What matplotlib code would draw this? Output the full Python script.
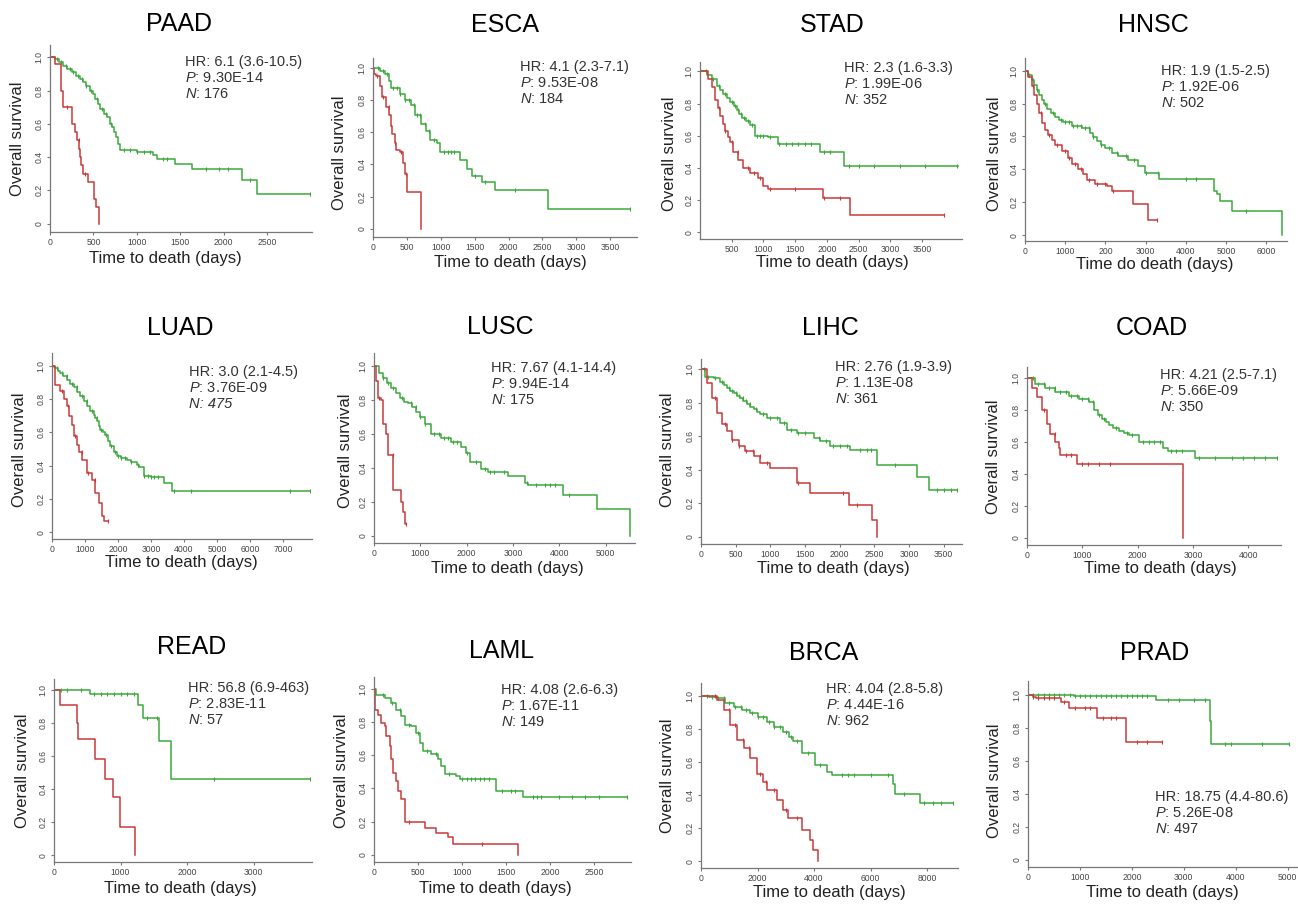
import matplotlib
matplotlib.use("Agg")
import matplotlib.pyplot as plt
import numpy as np

plt.rcParams['font.family'] = ['Liberation Sans', 'DejaVu Sans']
plt.rcParams['mathtext.fontset'] = 'custom'
plt.rcParams['mathtext.rm'] = 'Liberation Sans'
plt.rcParams['mathtext.it'] = 'Liberation Sans:italic'

# ---- survival data (days, survival) ----
paad_g_t = [0, 60, 100, 150, 200, 250, 300, 350, 385, 420, 460, 500, 519, 550, 577, 620, 654, 690, 712, 735, 760, 788, 808, 1000, 1192, 1231, 1442, 1635, 2212, 2385, 2995]
paad_g_s = [1.0, 0.99, 0.97, 0.95, 0.93, 0.91, 0.89, 0.87, 0.85, 0.83, 0.80, 0.78, 0.75, 0.72, 0.69, 0.66, 0.64, 0.60, 0.58, 0.55, 0.52, 0.48, 0.445, 0.43, 0.41, 0.39, 0.36, 0.33, 0.26, 0.18, 0.18]
paad_g_c = [80, 130, 180, 230, 270, 320, 370, 420, 470, 540, 600, 640, 700, 850, 920, 1000, 1080, 1150, 1300, 1350, 1800, 1950, 2050, 2300, 2995]
paad_r_t = [0, 60, 127, 154, 250, 288, 308, 335, 346, 358, 377, 442, 508, 527, 569]
paad_r_s = [1.0, 0.96, 0.80, 0.70, 0.60, 0.55, 0.50, 0.45, 0.40, 0.35, 0.30, 0.25, 0.15, 0.10, 0.0]
paad_r_c = [200, 330, 400]

esca_g_t = [0, 99, 172, 230, 271, 394, 468, 567, 616, 715, 789, 838, 937, 986, 1282, 1380, 1454, 1602, 1800, 2588, 3796]
esca_g_s = [1.0, 0.98, 0.96, 0.92, 0.875, 0.84, 0.80, 0.77, 0.71, 0.65, 0.61, 0.55, 0.53, 0.48, 0.43, 0.37, 0.33, 0.29, 0.24, 0.12, 0.12]
esca_g_c = [80, 150, 200, 300, 350, 400, 470, 530, 600, 650, 700, 760, 820, 900, 1050, 1100, 1150, 1200, 1500, 1650, 2100, 3790]
esca_r_t = [0, 20, 49, 99, 133, 197, 237, 261, 286, 320, 345, 394, 444, 468, 508, 715]
esca_r_s = [1.0, 0.96, 0.95, 0.89, 0.82, 0.76, 0.71, 0.64, 0.59, 0.53, 0.49, 0.475, 0.41, 0.34, 0.23, 0.0]
esca_r_c = [60, 150, 230, 330, 420, 480]

stad_g_t = [0, 105, 184, 263, 320, 368, 420, 474, 530, 579, 620, 658, 720, 789, 868, 1079, 1237, 1895, 2263, 4063]
stad_g_s = [1.0, 0.975, 0.955, 0.91, 0.885, 0.86, 0.835, 0.81, 0.785, 0.76, 0.735, 0.71, 0.69, 0.665, 0.60, 0.59, 0.55, 0.50, 0.41, 0.41]
stad_g_c = [100, 200, 300, 400, 500, 550, 600, 650, 700, 760, 820, 900, 950, 1000, 1100, 1250, 1350, 1450, 1550, 1650, 1750, 1950, 2050, 2350, 2500, 2750, 3150, 3550, 4060]
stad_r_t = [0, 132, 184, 237, 280, 316, 360, 395, 440, 474, 526, 605, 684, 789, 921, 1000, 1079, 1947, 2368, 3842]
stad_r_s = [1.0, 0.955, 0.90, 0.82, 0.77, 0.72, 0.67, 0.63, 0.59, 0.56, 0.50, 0.45, 0.40, 0.37, 0.335, 0.29, 0.27, 0.215, 0.11, 0.11]
stad_r_c = [300, 400, 500, 600, 750, 850, 950, 1100, 1500, 1950, 2200, 3840]

hnsc_g_t = [0, 80, 166, 230, 290, 350, 415, 480, 540, 640, 747, 850, 955, 1162, 1411, 1619, 1700, 1785, 1900, 1992, 2158, 2324, 2573, 2822, 2988, 3320, 4690, 4773, 4856, 5146, 6391]
hnsc_g_s = [1.0, 0.975, 0.945, 0.91, 0.88, 0.85, 0.82, 0.795, 0.77, 0.745, 0.72, 0.70, 0.69, 0.665, 0.65, 0.62, 0.595, 0.57, 0.55, 0.53, 0.50, 0.48, 0.46, 0.42, 0.38, 0.34, 0.27, 0.25, 0.21, 0.15, 0.0]
hnsc_g_c = [100, 200, 300, 500, 700, 900, 1000, 1100, 1200, 1300, 1400, 1500, 1600, 1700, 1900, 2100, 2300, 2500, 2700, 3000, 3300, 4000, 4250, 5500]
hnsc_r_t = [0, 80, 166, 230, 290, 350, 415, 500, 581, 660, 747, 913, 1079, 1162, 1328, 1453, 1536, 1743, 2034, 2158, 2698, 3071, 3279]
hnsc_r_s = [1.0, 0.96, 0.905, 0.85, 0.80, 0.74, 0.68, 0.64, 0.61, 0.58, 0.55, 0.51, 0.47, 0.43, 0.40, 0.37, 0.335, 0.31, 0.30, 0.27, 0.19, 0.095, 0.095]
hnsc_r_c = [200, 400, 600, 800, 1000, 1100, 1250, 1400, 1600, 1800, 2000, 2200, 3279]

luad_g_t = [0, 50, 101, 180, 253, 330, 455, 540, 657, 760, 859, 960, 1061, 1160, 1263, 1310, 1364, 1420, 1465, 1540, 1616, 1687, 1768, 1869, 1970, 2100, 2273, 2400, 2576, 2650, 2778, 3000, 3384, 3636, 7828]
luad_g_s = [1.0, 0.99, 0.985, 0.97, 0.955, 0.935, 0.915, 0.89, 0.87, 0.84, 0.815, 0.79, 0.76, 0.73, 0.705, 0.685, 0.665, 0.64, 0.615, 0.60, 0.585, 0.55, 0.515, 0.48, 0.455, 0.445, 0.435, 0.42, 0.405, 0.39, 0.335, 0.33, 0.295, 0.245, 0.245]
luad_g_c = [150, 300, 450, 600, 750, 900, 1050, 1200, 1350, 1500, 1650, 1800, 1900, 2000, 2100, 2200, 2400, 2600, 2800, 2900, 3000, 3100, 3200, 3700, 4200, 7200, 7828]
luad_r_t = [0, 101, 253, 350, 455, 530, 606, 680, 758, 830, 909, 1061, 1212, 1313, 1414, 1515, 1566, 1687]
luad_r_s = [1.0, 0.885, 0.845, 0.80, 0.755, 0.70, 0.645, 0.58, 0.525, 0.48, 0.435, 0.355, 0.315, 0.235, 0.175, 0.095, 0.07, 0.07]
luad_r_c = [300, 500, 700, 900, 1100, 1300, 1687]

lusc_g_t = [0, 100, 195, 290, 375, 470, 555, 640, 735, 820, 915, 1000, 1095, 1239, 1455, 1672, 1888, 1996, 2068, 2320, 2464, 2896, 3257, 3329, 4085, 4806, 5526]
lusc_g_s = [1.0, 0.96, 0.93, 0.90, 0.87, 0.84, 0.81, 0.79, 0.78, 0.755, 0.73, 0.70, 0.66, 0.60, 0.575, 0.555, 0.525, 0.485, 0.435, 0.395, 0.375, 0.355, 0.31, 0.30, 0.24, 0.16, 0.0]
lusc_g_c = [200, 300, 400, 600, 800, 900, 1000, 1100, 1300, 1400, 1500, 1600, 1700, 1800, 2000, 2200, 2400, 2500, 2600, 2800, 3300, 3500, 3700, 3800, 3900, 4200]
lusc_r_t = [0, 50, 86, 159, 195, 267, 303, 411, 591, 627, 663, 699]
lusc_r_s = [1.0, 0.91, 0.81, 0.80, 0.66, 0.60, 0.475, 0.27, 0.20, 0.14, 0.07, 0.07]
lusc_r_c = [100, 400, 699]

lihc_g_t = [0, 63, 183, 279, 330, 375, 420, 471, 520, 567, 610, 663, 710, 760, 810, 856, 952, 1144, 1240, 1385, 1625, 1721, 1865, 2154, 2538, 3116, 3284, 3693]
lihc_g_s = [1.0, 0.955, 0.945, 0.925, 0.905, 0.885, 0.87, 0.855, 0.84, 0.825, 0.81, 0.79, 0.775, 0.76, 0.745, 0.73, 0.71, 0.68, 0.64, 0.62, 0.59, 0.57, 0.54, 0.52, 0.43, 0.36, 0.28, 0.28]
lihc_g_c = [50, 100, 200, 300, 400, 450, 500, 550, 600, 650, 700, 800, 900, 1000, 1100, 1200, 1300, 1400, 1500, 1700, 1800, 1900, 2000, 2100, 2300, 2400, 2450, 2800, 3400, 3500, 3600, 3693]
lihc_r_t = [0, 87, 159, 231, 303, 375, 447, 543, 639, 760, 856, 1000, 1385, 1577, 2130, 2466, 2539]
lihc_r_s = [1.0, 0.917, 0.83, 0.74, 0.67, 0.63, 0.58, 0.54, 0.51, 0.48, 0.44, 0.41, 0.32, 0.26, 0.19, 0.10, 0.0]
lihc_r_c = [200, 350, 450, 550, 650, 750, 850, 950, 1400, 2050, 2250]

coad_g_t = [0, 150, 331, 511, 752, 932, 1113, 1203, 1280, 1353, 1420, 1474, 1560, 1654, 1750, 1835, 2015, 2466, 2556, 3038, 4511]
coad_g_s = [1.0, 0.965, 0.935, 0.91, 0.89, 0.87, 0.85, 0.80, 0.77, 0.745, 0.725, 0.705, 0.69, 0.67, 0.655, 0.64, 0.60, 0.56, 0.54, 0.50, 0.50]
coad_g_c = [100, 200, 300, 400, 500, 600, 700, 800, 900, 1000, 1100, 1200, 1300, 1400, 1600, 1800, 1900, 2100, 2200, 2300, 2400, 2600, 2700, 2800, 3100, 3400, 3700, 3900, 4100, 4300, 4511]
coad_r_t = [0, 90, 180, 271, 361, 421, 511, 571, 601, 902, 2827]
coad_r_s = [1.0, 0.94, 0.88, 0.80, 0.715, 0.65, 0.60, 0.56, 0.52, 0.46, 0.0]
coad_r_c = [300, 500, 700, 800, 1000, 1100, 1300, 1500]

read_g_t = [0, 542, 1269, 1345, 1580, 1756, 3853]
read_g_s = [1.0, 0.975, 0.91, 0.83, 0.69, 0.46, 0.46]
read_g_c = [100, 200, 400, 600, 700, 800, 900, 1000, 1100, 1200, 1400, 1550, 2400, 3853]
read_r_t = [0, 90, 341, 366, 617, 768, 893, 993, 1219]
read_r_s = [1.0, 0.91, 0.80, 0.70, 0.58, 0.46, 0.35, 0.17, 0.0]
read_r_c = []

laml_g_t = [0, 27, 121, 197, 254, 311, 348, 424, 481, 519, 557, 652, 727, 765, 803, 936, 974, 1390, 1693, 2868]
laml_g_s = [1.0, 0.965, 0.945, 0.915, 0.875, 0.835, 0.785, 0.775, 0.735, 0.675, 0.625, 0.605, 0.575, 0.535, 0.485, 0.475, 0.455, 0.385, 0.35, 0.35]
laml_g_c = [100, 200, 300, 400, 500, 600, 700, 850, 1000, 1050, 1100, 1150, 1200, 1250, 1300, 1450, 1550, 1600, 1800, 1850, 1900, 2100, 2250, 2400, 2550, 2868]
laml_r_t = [0, 8, 45, 83, 121, 140, 178, 197, 216, 254, 273, 311, 348, 576, 708, 841, 898, 1636]
laml_r_s = [1.0, 0.87, 0.845, 0.795, 0.775, 0.715, 0.655, 0.575, 0.495, 0.445, 0.385, 0.335, 0.20, 0.16, 0.13, 0.105, 0.065, 0.0]
laml_r_c = [400, 1230]

brca_g_t = [0, 300, 565, 850, 1153, 1450, 1741, 2000, 2329, 2600, 2917, 3100, 3270, 3564, 4034, 4446, 4622, 6797, 6880, 7738, 8914]
brca_g_s = [1.0, 0.995, 0.985, 0.96, 0.935, 0.915, 0.895, 0.875, 0.845, 0.815, 0.78, 0.75, 0.725, 0.655, 0.58, 0.54, 0.52, 0.47, 0.41, 0.35, 0.35]
brca_g_c = [200, 400, 600, 800, 1000, 1200, 1400, 1600, 1800, 2000, 2200, 2400, 2600, 2800, 3000, 3200, 3400, 3800, 4200, 5000, 5200, 5400, 6000, 6600, 7200, 7900, 8200, 8500, 8914]
brca_r_t = [0, 565, 800, 1035, 1270, 1506, 1741, 1976, 2211, 2329, 2682, 2917, 3093, 3564, 3858, 3976, 4152]
brca_r_s = [1.0, 0.975, 0.915, 0.825, 0.735, 0.685, 0.625, 0.53, 0.48, 0.43, 0.37, 0.31, 0.26, 0.19, 0.13, 0.07, 0.0]
brca_r_c = [500, 1000, 1200, 1500, 1700, 2100, 2300, 2600, 3000, 3400]

prad_g_t = [0, 892, 2471, 3503, 3530, 5032]
prad_g_s = [1.0, 0.995, 0.97, 0.845, 0.705, 0.705]
prad_g_c = [100, 200, 300, 400, 500, 600, 700, 800, 900, 1000, 1100, 1200, 1300, 1400, 1500, 1600, 1700, 1800, 1900, 2000, 2100, 2200, 2300, 2700, 2900, 3200, 3400, 3800, 3900, 4500, 5032]
prad_r_t = [0, 96, 159, 637, 796, 1337, 1879, 2580]
prad_r_s = [1.0, 0.99, 0.98, 0.96, 0.92, 0.86, 0.715, 0.715]
prad_r_c = [100, 200, 300, 400, 500, 700, 900, 1100, 1200, 1450, 1600, 1700, 2100, 2300, 2580]

names = ['PAAD', 'ESCA', 'STAD', 'HNSC', 'LUAD', 'LUSC', 'LIHC', 'COAD', 'READ', 'LAML', 'BRCA', 'PRAD']
hr_text = ['6.1 (3.6-10.5)', '4.1 (2.3-7.1)', '2.3 (1.6-3.3)', '1.9 (1.5-2.5)', '3.0 (2.1-4.5)', '7.67 (4.1-14.4)',
           '2.76 (1.9-3.9)', '4.21 (2.5-7.1)', '56.8 (6.9-463)', '4.08 (2.6-6.3)', '4.04 (2.8-5.8)', '18.75 (4.4-80.6)']
p_text = ['9.30E-14', '9.53E-08', '1.99E-06', '1.92E-06', '3.76E-09', '9.94E-14',
          '1.13E-08', '5.66E-09', '2.83E-11', '1.67E-11', '4.44E-16', '5.26E-08']
n_text = ['176', '184', '352', '502', '475', '175', '361', '350', '57', '149', '962', '497']
xticks = [range(0, 2501, 500), range(0, 3501, 500), range(500, 3501, 500), range(0, 6001, 1000),
          range(0, 7001, 1000), range(0, 5001, 1000), range(0, 3501, 500), range(0, 4001, 1000),
          range(0, 3001, 1000), range(0, 2501, 500), range(0, 8001, 2000), range(0, 5001, 1000)]
hnsc_xlabels = ['0', '1000', '200', '3000', '4000', '5000', '6000']

curves = {
    'PAAD': (paad_g_t, paad_g_s, paad_g_c, paad_r_t, paad_r_s, paad_r_c),
    'ESCA': (esca_g_t, esca_g_s, esca_g_c, esca_r_t, esca_r_s, esca_r_c),
    'STAD': (stad_g_t, stad_g_s, stad_g_c, stad_r_t, stad_r_s, stad_r_c),
    'HNSC': (hnsc_g_t, hnsc_g_s, hnsc_g_c, hnsc_r_t, hnsc_r_s, hnsc_r_c),
    'LUAD': (luad_g_t, luad_g_s, luad_g_c, luad_r_t, luad_r_s, luad_r_c),
    'LUSC': (lusc_g_t, lusc_g_s, lusc_g_c, lusc_r_t, lusc_r_s, lusc_r_c),
    'LIHC': (lihc_g_t, lihc_g_s, lihc_g_c, lihc_r_t, lihc_r_s, lihc_r_c),
    'COAD': (coad_g_t, coad_g_s, coad_g_c, coad_r_t, coad_r_s, coad_r_c),
    'READ': (read_g_t, read_g_s, read_g_c, read_r_t, read_r_s, read_r_c),
    'LAML': (laml_g_t, laml_g_s, laml_g_c, laml_r_t, laml_r_s, laml_r_c),
    'BRCA': (brca_g_t, brca_g_s, brca_g_c, brca_r_t, brca_r_s, brca_r_c),
    'PRAD': (prad_g_t, prad_g_s, prad_g_c, prad_r_t, prad_r_s, prad_r_c),
}

# ---- layout in pixels (left, top, right, bottom), x range, y range ----
boxes = [(50, 45, 312, 232), (373, 58, 637, 237), (700, 62, 962, 239), (1025, 58, 1287, 241),
         (52, 353, 312, 539), (374, 353, 635, 543), (701, 359, 962, 544), (1027, 367, 1281, 545),
         (54, 679, 312, 862), (374, 677, 631, 862), (701, 683, 958, 868), (1028, 681, 1297, 867)]
xmax = [3019, 3895, 4131, 6515, 7879, 5633, 3765, 4590, 3878, 2917, 9093, 5180]
ylims = [(-0.05, 1.074), (-0.052, 1.062), (-0.042, 1.058), (-0.035, 1.077),
         (-0.04, 1.076), (-0.041, 1.075), (-0.042, 1.06), (-0.046, 1.069),
         (-0.04, 1.065), (-0.044, 1.072), (-0.04, 1.078), (-0.045, 1.085)]
title_xy = [(179, 24), (505, 25), (832, 25), (1153, 25), (180, 328), (500, 327), (830, 328), (1152, 328),
            (192, 647), (502, 651), (824, 653), (1155, 653)]
xlab_xy = [(165, 258), (510, 263), (832, 263), (1155, 264), (181, 563), (507, 568), (833, 569), (1160, 568),
           (180, 888), (495, 888), (829, 893), (1162, 893)]
ylab_xy = [(18, 139), (340, 153), (669, 154), (995, 154), (20, 450), (345, 451), (668, 450), (993, 457),
           (23, 771), (342, 771), (668, 776), (995, 781)]
stats_xy = [(185, 62), (520, 67), (844, 68), (1161, 71), (189, 372), (491, 368), (835, 367), (1160, 375),
            (188, 688), (501, 690), (826, 689), (1155, 797)]

W, H = 1298, 907
GREEN = '#3ca83c'
RED = '#c83a3a'
GRAY = '#777777'

fig = plt.figure(figsize=(W / 100, H / 100), dpi=100)
fig.patch.set_facecolor('white')


def fx(x):
    return x / W


def fy(y):
    return 1 - y / H


def km(ax, t, s, c, color):
    t = np.asarray(t, float)
    s = np.asarray(s, float)
    ax.step(t, s, where='post', color=color, lw=1.1)
    if len(c):
        idx = np.searchsorted(t, np.asarray(c, float), side='right') - 1
        ax.plot(c, s[idx], ls='none', marker='|', ms=3.5, mew=0.8, color=color)


for i, name in enumerate(names):
    l, t, r, b = boxes[i]
    ax = fig.add_axes([fx(l), fy(b), (r - l) / W, (b - t) / H])
    gt, gs, gc, rt, rs, rc = curves[name]
    km(ax, gt, gs, gc, GREEN)
    km(ax, rt, rs, rc, RED)
    ax.set_xlim(0, xmax[i])
    ax.set_ylim(*ylims[i])
    for side in ['top', 'right']:
        ax.spines[side].set_visible(False)
    for side in ['left', 'bottom']:
        ax.spines[side].set_color(GRAY)
        ax.spines[side].set_linewidth(0.9)
    ax.set_xticks(list(xticks[i]))
    if name == 'HNSC':
        ax.set_xticklabels(hnsc_xlabels)
    else:
        ax.set_xticklabels([str(v) for v in xticks[i]])
    ax.set_yticks([0, 0.2, 0.4, 0.6, 0.8, 1.0])
    ax.set_yticklabels(['0', '0.2', '0.4', '0.6', '0.8', '1.0'], rotation=90, va='center')
    ax.tick_params(length=2.5, width=0.8, color=GRAY, labelsize=6.2, labelcolor='#444444', pad=2)

    fig.text(fx(title_xy[i][0]), fy(title_xy[i][1]), name, fontsize=18, ha='center', va='center')
    xl = 'Time do death (days)' if name == 'HNSC' else 'Time to death (days)'
    fig.text(fx(xlab_xy[i][0]), fy(xlab_xy[i][1]), xl, fontsize=12, ha='center', va='center', color='#222222')
    fig.text(fx(ylab_xy[i][0]), fy(ylab_xy[i][1]), 'Overall survival', fontsize=12, rotation=90,
             ha='center', va='center', color='#222222')

    sx, sy = stats_xy[i]
    fig.text(fx(sx), fy(sy), 'HR: ' + hr_text[i], fontsize=10.5, va='center', color='#333333')
    fig.text(fx(sx), fy(sy + 16), r'$\mathit{P}$: ' + p_text[i], fontsize=10.5, va='center', color='#333333')
    if name == 'LUAD':
        fig.text(fx(sx), fy(sy + 32), 'N: ' + n_text[i], fontsize=10.5, va='center', style='italic', color='#333333')
    else:
        fig.text(fx(sx), fy(sy + 32), r'$\mathit{N}$: ' + n_text[i], fontsize=10.5, va='center', color='#333333')

fig.savefig('out.png', dpi=100)
